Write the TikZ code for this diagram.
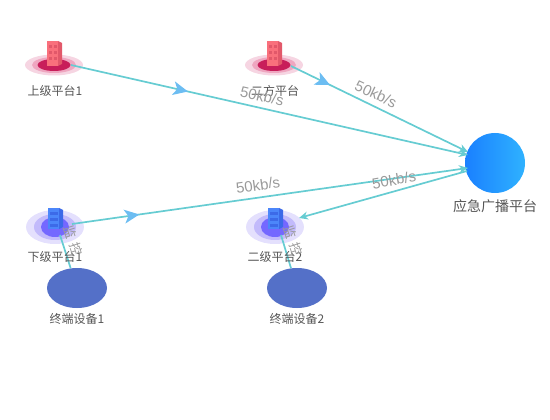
\documentclass[tikz,border=0pt]{standalone}
\usepackage{fontspec}
\setmainfont{Liberation Sans}
\newfontfamily\cjk{Noto Sans CJK SC}
\usetikzlibrary{arrows.meta,decorations.markings,shapes.geometric}
\definecolor{linkc}{HTML}{66CCD2}
\definecolor{midc}{HTML}{6CBDF2}
\definecolor{txtc}{HTML}{555555}
\definecolor{ratec}{HTML}{9A9A9A}
\definecolor{HTMLpo}{HTML}{F6D5E2}
\definecolor{HTMLpk}{HTML}{EFA6C0}
\definecolor{HTMLdk}{HTML}{C81E5A}
\definecolor{HTMLfr}{HTML}{F9707C}
\definecolor{HTMLsd}{HTML}{E2586A}
\definecolor{HTMLbp}{HTML}{E4E0FD}
\definecolor{HTMLbm}{HTML}{C2BAFB}
\definecolor{HTMLbd}{HTML}{7468FF}
\definecolor{HTMLbf}{HTML}{4C86FA}
\definecolor{HTMLbs}{HTML}{3C6AE8}
\definecolor{hubl}{HTML}{1A80FF}
\definecolor{hubr}{HTML}{2FB2FF}
\definecolor{termc}{HTML}{5470C8}
\tikzset{
  link/.style={draw=linkc,line width=1.7pt},
  endtip/.style={-{Stealth[length=9pt,width=8pt,color=linkc]}},
  midtip/.style={postaction={decorate,decoration={markings,mark=at position #1 with {\fill[midc] (8,0) -- (-7,7) -- (-3,0) -- (-7,-7) -- cycle;}}}},
  lbl/.style={font=\cjk\fontsize{12}{12}\selectfont,text=txtc,inner sep=0pt},
  rate/.style={font=\fontsize{15}{15}\selectfont,text=ratec,inner sep=0pt},
  port/.style={font=\cjk\fontsize{13}{13}\selectfont,text=ratec,inner sep=0pt,rotate=-72},
  term/.style={ellipse,fill=#1,minimum width=60pt,minimum height=40pt,inner sep=0pt},
}
\newcommand{\redsite}[1]{%
  \begin{scope}[shift={#1}]
    \fill[HTMLpo] (0,0) ellipse [x radius=29,y radius=10.5];
    \fill[HTMLpk] (0,0) ellipse [x radius=22,y radius=8];
    \fill[HTMLdk] (0,0) ellipse [x radius=16.5,y radius=6];
    \fill[HTMLfr] (-7,-24) -- (4,-24) -- (4,1) -- (-7,1) -- cycle;
    \fill[HTMLsd] (4,-24) -- (8,-22) -- (8,-1) -- (4,1) -- cycle;
    \foreach \yy in {-20,-14,-8}{
      \fill[HTMLsd] (-5.5,\yy) rectangle +(3.5,3);
      \fill[HTMLsd] (-0.5,\yy) rectangle +(3.5,3);
    }
  \end{scope}}
\newcommand{\bluesite}[1]{%
  \begin{scope}[shift={#1}]
    \fill[HTMLbp] (0,0) ellipse [x radius=29,y radius=17];
    \fill[HTMLbm] (0,0) ellipse [x radius=21,y radius=13];
    \fill[HTMLbd] (0,0) ellipse [x radius=14,y radius=10];
    \fill[HTMLbf] (-7,-19) -- (4,-19) -- (4,2) -- (-7,2) -- cycle;
    \fill[HTMLbs] (4,-19) -- (8,-17) -- (8,0) -- (4,2) -- cycle;
    \foreach \yy in {-15,-9,-3}{
      \fill[HTMLbs] (-5.5,\yy) rectangle +(8.5,3);
    }
  \end{scope}}
\begin{document}
\begin{tikzpicture}[x=1pt,y=-1pt]
\useasboundingbox (0,0) rectangle (550,420);
\redsite{(54,65)}
\redsite{(274,65)}
\bluesite{(55,227)}
\bluesite{(275,227)}
\node[term=termc] (t1) at (77,288) {};
\node[term=termc] (t2) at (297,288) {};
\node[circle,minimum size=60pt,inner sep=0pt,left color=hubl,right color=hubr] (hub) at (495,163) {};
\coordinate (a) at (71,65);
\coordinate (b) at (291,66);
\coordinate (c) at (72,224);
\coordinate (d) at (299,218);
\coordinate (c2) at (60,235);
\coordinate (d2) at (281,235);
\coordinate (ha) at (468,155);
\coordinate (hb) at (468,152);
\coordinate (hc) at (468,168);
\coordinate (hd) at (467,171);
\path[link,endtip,midtip=0.275] (a) -- (ha);
\path[link,endtip,midtip=0.18] (b) -- (hb);
\path[link,endtip,midtip=0.15] (c) -- (hc);
\path[link,endtip] (hd) -- (d);
\path[link] (c2) -- (t1);
\path[link] (d2) -- (t2);
\node[lbl] (n1) at (55,91) {上级平台1};
\node[lbl] (n2) at (275,91) {二方平台};
\node[lbl] (n3) at (55,257) {下级平台1};
\node[lbl] (n4) at (275,257) {二级平台2};
\node[lbl] (n5) at (77,319) {终端设备1};
\node[lbl] (n6) at (297,319) {终端设备2};
\node[lbl,font=\cjk\fontsize{14}{14}\selectfont] (n7) at (495,206) {应急广播平台};
\node[rate,rotate=-13] (r1) at (262,96) {50kb/s};
\node[rate,rotate=-25] (r2) at (376,94) {50kb/s};
\node[rate,rotate=8] (r3) at (258,185) {50kb/s};
\node[rate,rotate=10] (r4) at (394,180) {50kb/s};
\node[port] (p1) at (73,241) {监\hspace{5pt}控};
\node[port] (p2) at (293,241) {监\hspace{5pt}控};
\end{tikzpicture}
\end{document}
